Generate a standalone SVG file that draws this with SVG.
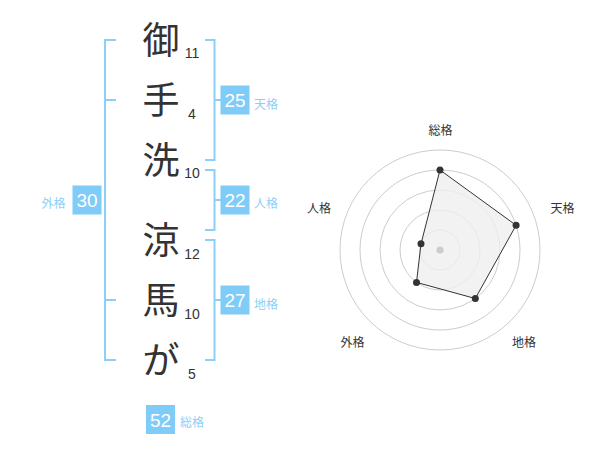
<svg xmlns="http://www.w3.org/2000/svg" width="600" height="470" viewBox="0 0 600 470">
<style>
text{font-family:"Liberation Sans","Noto Sans CJK JP",sans-serif}
.ch{font-size:37px;fill:#333;text-anchor:middle}
.num{font-size:14px;fill:#333;text-anchor:middle}
.br{fill:none;stroke:#8ccff8;stroke-width:2}
.box{fill:#80ccf8}
.bt{font-size:19px;fill:#fff;text-anchor:middle}
.lb{font-size:12px;fill:#8ccff8}
.ring{fill:none;stroke:#ccc;stroke-width:1}
.ax{font-size:12px;fill:#333;text-anchor:middle}
.pt{fill:#333}
</style>
<rect width="600" height="470" fill="#fff"/>
<g id="chars">
<g id="c1"><text class="ch" x="161" y="54">御</text><text class="num" x="192" y="58">11</text></g>
<g id="c2"><text class="ch" x="161" y="114">手</text><text class="num" x="192" y="119">4</text></g>
<g id="c3"><text class="ch" x="161" y="174">洗</text><text class="num" x="192" y="177.5">10</text></g>
<g id="c4"><text class="ch" x="161" y="254">涼</text><text class="num" x="192" y="258.5">12</text></g>
<g id="c5"><text class="ch" x="161" y="314">馬</text><text class="num" x="192" y="318.5">10</text></g>
<g id="c6"><text class="ch" x="161" y="374">が</text><text class="num" x="192" y="378.5">5</text></g>
</g>
<g id="connectors">
<path class="br" d="M116,40H105V360H116M105,100H116M105,300H116"/>
<path class="br" d="M205,40H214.5V160H205M214.5,100H221"/>
<path class="br" d="M205,170H214.5V230H205M214.5,200H221"/>
<path class="br" d="M205,240H214.5V360H205M214.5,300H221"/>
</g>
<g id="tenkaku"><rect class="box" x="220.5" y="85.5" width="29" height="29"/><text class="bt" x="235" y="107">25</text><text class="lb" x="254" y="108.5">天格</text></g>
<g id="jinkaku"><rect class="box" x="220.5" y="185.5" width="29" height="29"/><text class="bt" x="235" y="207">22</text><text class="lb" x="254" y="207.5">人格</text></g>
<g id="chikaku"><rect class="box" x="220.5" y="285.5" width="29" height="29"/><text class="bt" x="235" y="307">27</text><text class="lb" x="254" y="308.5">地格</text></g>
<g id="gaikaku"><rect class="box" x="72.5" y="185.5" width="29" height="29"/><text class="bt" x="87" y="207">30</text><text class="lb" x="41.5" y="207.5">外格</text></g>
<g id="soukaku"><rect class="box" x="146" y="405" width="29" height="29"/><text class="bt" x="160.5" y="426.5">52</text><text class="lb" x="180" y="426.5">総格</text></g>
<g id="radar">
<circle class="ring" cx="440" cy="250" r="20"/>
<circle class="ring" cx="440" cy="250" r="40"/>
<circle class="ring" cx="440" cy="250" r="60"/>
<circle class="ring" cx="440" cy="250" r="80"/>
<circle class="ring" cx="440" cy="250" r="100"/>
<polygon points="440,170 516.1,225.3 475.3,298.5 416.5,282.4 421,243.8" fill="#efefef" fill-opacity="0.8" stroke="#333" stroke-width="1"/>
<circle cx="440" cy="250" r="3.5" fill="#ccc"/>
<circle class="pt" cx="440" cy="170" r="3.5"/>
<circle class="pt" cx="516.1" cy="225.3" r="3.5"/>
<circle class="pt" cx="475.3" cy="298.5" r="3.5"/>
<circle class="pt" cx="416.5" cy="282.4" r="3.5"/>
<circle class="pt" cx="421" cy="243.8" r="3.5"/>
<text class="ax" x="440.5" y="135">総格</text>
<text class="ax" x="562.5" y="212.5">天格</text>
<text class="ax" x="524" y="346.5">地格</text>
<text class="ax" x="352.5" y="346.5">外格</text>
<text class="ax" x="319" y="212.5">人格</text>
</g>
</svg>
